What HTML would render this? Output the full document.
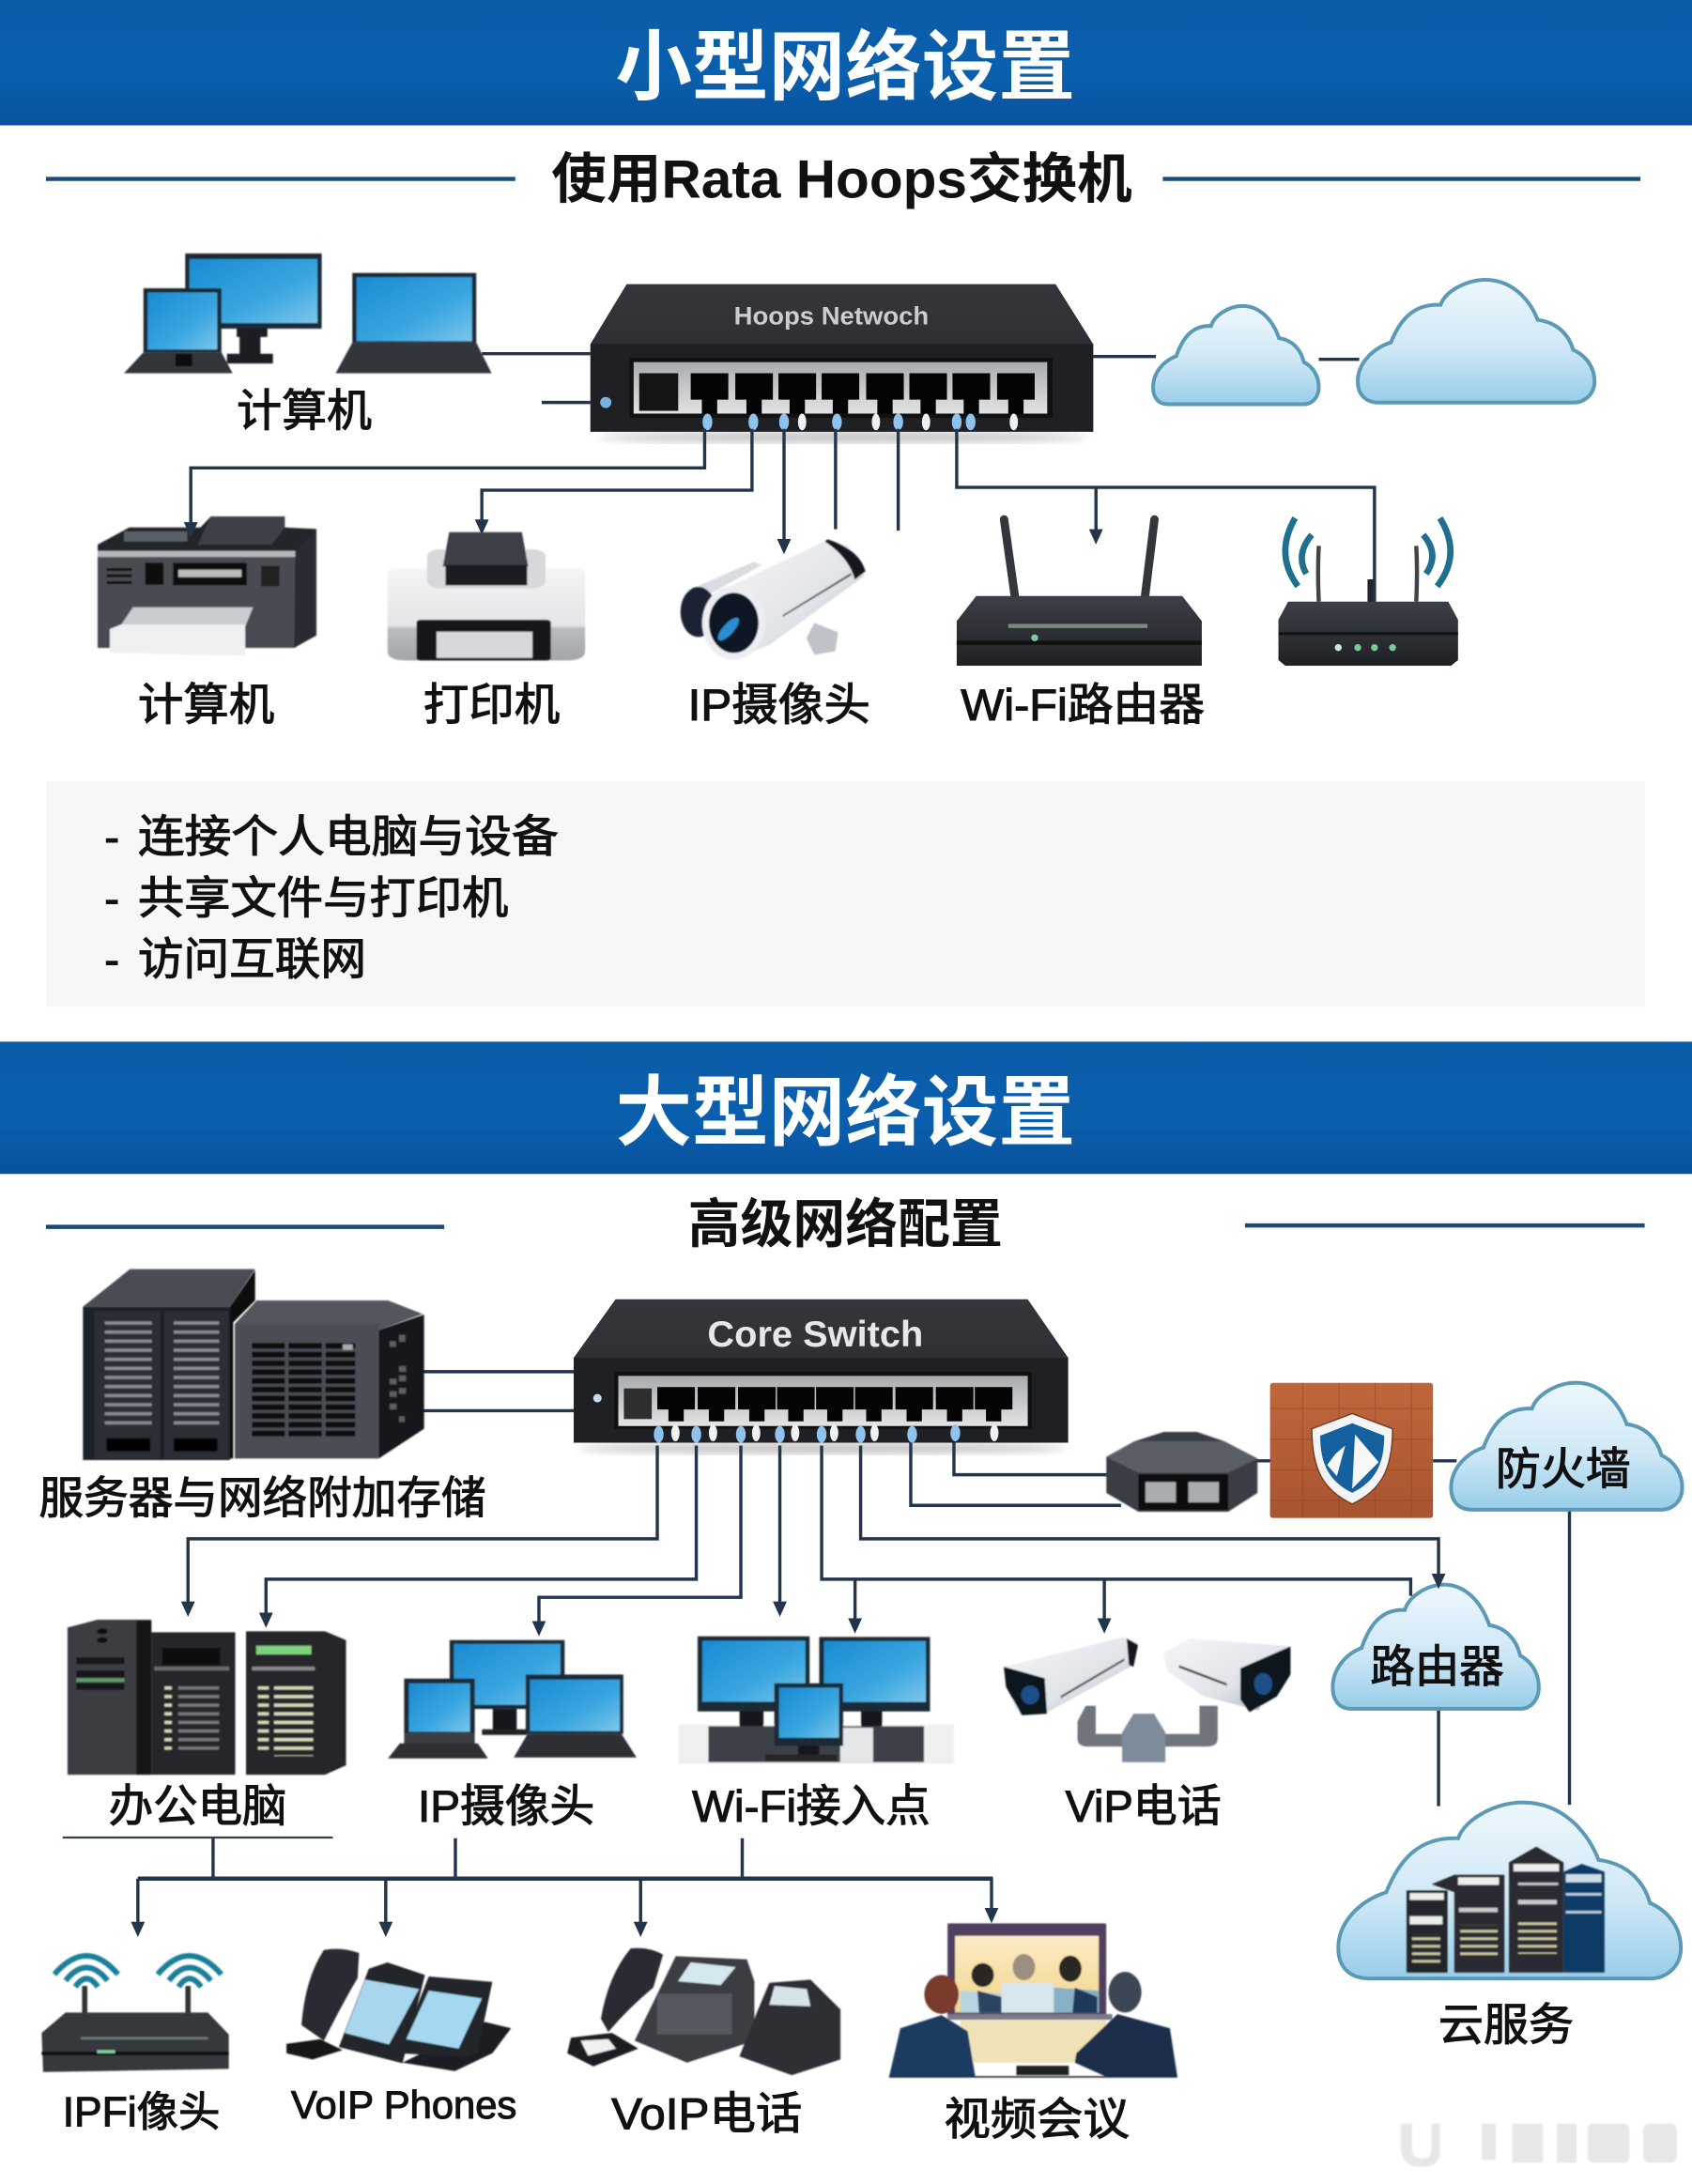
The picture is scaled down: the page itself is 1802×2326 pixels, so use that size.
<!DOCTYPE html>
<html><head><meta charset="utf-8"><style>
html,body{margin:0;padding:0;background:#fff}
svg{display:block}
text{font-family:"Liberation Sans","Noto Sans CJK SC",sans-serif;fill:#111}
.b{font-weight:700}
.w{stroke:#111;stroke-width:.75}
.l{fill:none;stroke:#22354a;stroke-width:2.3}
</style></head><body>
<svg width="1802" height="2326" viewBox="0 0 1215 1568.3" xmlns="http://www.w3.org/2000/svg">
<defs>
<linearGradient id="hd" x1="0" y1="0" x2="0" y2="1"><stop offset="0" stop-color="#0c5ba8"/><stop offset=".6" stop-color="#0a60ae"/><stop offset="1" stop-color="#08509c"/></linearGradient>
<linearGradient id="scr" x1="0" y1="0" x2="1" y2="1"><stop offset="0" stop-color="#1a8ad2"/><stop offset=".6" stop-color="#3aa6e0"/><stop offset="1" stop-color="#7cc6ea"/></linearGradient>
<linearGradient id="cl" x1="0" y1="0" x2="0" y2="1"><stop offset="0" stop-color="#eef7fc"/><stop offset=".55" stop-color="#cfe8f6"/><stop offset="1" stop-color="#98cdea"/></linearGradient>
<linearGradient id="dk" x1="0" y1="0" x2="0" y2="1"><stop offset="0" stop-color="#3c3f46"/><stop offset="1" stop-color="#1f2125"/></linearGradient>
<linearGradient id="lg" x1="0" y1="0" x2="0" y2="1"><stop offset="0" stop-color="#f4f5f7"/><stop offset=".62" stop-color="#e2e4e7"/><stop offset=".66" stop-color="#b8bbc0"/><stop offset="1" stop-color="#a2a5aa"/></linearGradient>
<linearGradient id="wb" x1="0" y1="0" x2="1" y2="1"><stop offset="0" stop-color="#f6f7f9"/><stop offset=".6" stop-color="#dfe2e7"/><stop offset="1" stop-color="#a7acb3"/></linearGradient>
<linearGradient id="pn" x1="0" y1="0" x2="0" y2="1"><stop offset="0" stop-color="#a9acaf"/><stop offset="1" stop-color="#e2e3e5"/></linearGradient>
<linearGradient id="brick" x1="0" y1="0" x2="0" y2="1"><stop offset="0" stop-color="#c0673c"/><stop offset="1" stop-color="#a85430"/></linearGradient>
<linearGradient id="sw" x1="0" y1="0" x2="0" y2="1"><stop offset="0" stop-color="#34363c"/><stop offset="1" stop-color="#25272c"/></linearGradient>
<linearGradient id="vid" x1="0" y1="0" x2="0" y2="1"><stop offset="0" stop-color="#fbeac6"/><stop offset="1" stop-color="#f2d68c"/></linearGradient>
<filter id="bl"><feGaussianBlur stdDeviation=".45"/></filter>
<filter id="bl2"><feGaussianBlur stdDeviation="3"/></filter>
<marker id="a" markerWidth="12" markerHeight="12" refX="5" refY="5" orient="auto" markerUnits="userSpaceOnUse"><path d="M0,0 L10,0 L5,11 Z" transform="rotate(-90 5 5)" fill="#22354a"/></marker>
<path id="cloud" d="M9,99 C3,99 0,92 0,82 C0,68 6,56 14,51 C18,32 24,20 35,21 C37,10 46,1 54,1 C64,1 72,14 76,33 C84,35 89,44 91,57 C97,62 100,72 100,82 C100,92 96,99 91,99 Z" vector-effect="non-scaling-stroke" fill="url(#cl)" stroke="#5b9ab6" stroke-width="4"/>
<g id="port"><path d="M0,0 H27 V19 H19 V29 H8 V19 H0 Z" fill="#050505"/></g>
<g id="ledb"><ellipse rx="3.500" ry="6" fill="#8fc3ee"/></g>
<g id="ledw"><ellipse rx="3" ry="6" fill="#eef2f5"/></g>
<pattern id="gr" x="0" y="270" width="400" height="28" patternUnits="userSpaceOnUse"><rect width="400" height="28" fill="#4a4d54"/><rect y="1" width="400" height="18" fill="#0c0d0f"/></pattern>
<pattern id="bk" x="0" y="0" width="26" height="22" patternUnits="userSpaceOnUse"><path d="M0,21.500 H26 M25.500,0 V22" stroke="#8f4726" stroke-width="1" opacity=".5"/></pattern>
<pattern id="r1" x="0" y="258" width="400" height="27.500" patternUnits="userSpaceOnUse"><rect width="400" height="27.500" fill="#26282c"/><rect x="0" y="0" width="400" height="10" fill="#76797d"/></pattern>
<pattern id="r2" x="0" y="258" width="400" height="27.500" patternUnits="userSpaceOnUse"><rect width="400" height="27.500" fill="#26282b"/><rect x="0" y="0" width="400" height="10" fill="#d6dcb8"/></pattern>
<pattern id="r3" x="0" y="0" width="400" height="24" patternUnits="userSpaceOnUse"><rect width="400" height="24" fill="#2a2c30"/><rect x="0" y="4" width="400" height="8" fill="#cdc9a0"/></pattern>
<pattern id="bars" x="0" y="200" width="400" height="29" patternUnits="userSpaceOnUse"><rect width="400" height="29" fill="#2c2f35"/><rect x="0" y="2" width="400" height="10" fill="#8b8f94"/></pattern>
</defs>

<rect width="1215" height="1568.3" fill="#fff"/>
<!-- header 1 -->
<rect x="0" y="0" width="1215" height="90" fill="url(#hd)"/>
<text x="442" y="67" class="b" font-size="55" textLength="330" lengthAdjust="spacingAndGlyphs" style="fill:#fff">小型网络设置</text>
<path d="M33 128.500H370M835 128.500H1178" stroke="#1c4a75" stroke-width="3"/>
<text x="396" y="142" class="b" font-size="39" textLength="417" lengthAdjust="spacingAndGlyphs">使用Rata Hoops交换机</text>

<!-- computers top -->
<g filter="url(#bl)">
<rect x="133" y="182" width="98" height="54" fill="#1e2a36"/><rect x="136" y="186" width="92" height="46" fill="url(#scr)"/>
<path d="M170 236h22v6h-5v12h9v7h-33v-7h9v-12h-2z" fill="#1d1f23"/>
<rect x="103" y="207" width="56" height="46" fill="#1e2a36"/><rect x="106" y="210" width="50" height="41" fill="url(#scr)"/>
<path d="M103 253H159L167 268H89Z" fill="#33363b"/><rect x="126" y="254" width="12" height="9" fill="#111"/>
<rect x="253" y="196" width="89" height="50" fill="#1e2a36"/><rect x="256" y="199" width="83" height="46" fill="url(#scr)"/>
<path d="M253 246H342L353 268H241Z" fill="#33363b"/>
</g>
<text x="170" y="306" font-size="32" textLength="97" lengthAdjust="spacingAndGlyphs" class="w">计算机</text>

<!-- top switch -->
<ellipse cx="605" cy="314" rx="175" ry="4" fill="#c4c4c4" filter="url(#bl2)"/>
<path d="M450 204H758L785 247V310H424V247Z" fill="url(#sw)"/>
<path d="M424 247H785V310H424Z" fill="#1f2024"/>
<rect x="452" y="257" width="304" height="43" fill="#111"/>
<rect x="455" y="260" width="297" height="37" fill="url(#pn)"/>
<rect x="459" y="268" width="28" height="27" fill="#141414"/>
<use href="#port" x="496" y="268"/><use href="#port" x="528" y="268"/><use href="#port" x="559" y="268"/><use href="#port" x="590" y="268"/><use href="#port" x="622" y="268"/><use href="#port" x="653" y="268"/><use href="#port" x="684" y="268"/><use href="#port" x="716" y="268"/>
<use href="#ledb" x="508" y="303"/><use href="#ledb" x="541" y="303"/><use href="#ledb" x="563" y="303"/><use href="#ledw" x="576" y="303"/><use href="#ledb" x="601" y="303"/><use href="#ledw" x="629" y="303"/><use href="#ledb" x="645" y="303"/><use href="#ledw" x="665" y="303"/><use href="#ledb" x="687" y="303"/><use href="#ledb" x="697" y="303"/><use href="#ledw" x="728" y="303"/>
<circle cx="435" cy="289" r="4" fill="#79b4e0"/>
<text x="527" y="233" class="b" font-size="18" textLength="140" lengthAdjust="spacingAndGlyphs" style="fill:#c9cdd1">Hoops Netwoch</text>

<!-- top clouds -->
<path class="l" d="M785 256H830M947 258H976"/>
<use href="#cloud" transform="translate(828,219) scale(1.19,.72)"/>
<use href="#cloud" transform="translate(975,200) scale(1.7,.9)"/>

<!-- MFP / printer / camera: zoom-space group -->
<g filter="url(#bl)"><g transform="translate(60.68,357.36) scale(.3784,.2248)">
<path d="M25 150L85 95H220L240 60H380V95L440 100V440L395 480H25Z" fill="#24262c"/>
<rect x="75" y="108" width="120" height="32" fill="#5a6068"/>
<path d="M240 60H380V95L355 150H215Z" fill="#3d4047"/>
<rect x="25" y="170" width="375" height="20" fill="#b3b6bb"/>
<rect x="25" y="190" width="375" height="290" fill="#484b52"/>
<path d="M400 170L440 105V440L398 480Z" fill="#2a2c31"/>
<rect x="42" y="225" width="48" height="9" fill="#111"/><rect x="42" y="245" width="48" height="9" fill="#111"/><rect x="42" y="267" width="48" height="9" fill="#111"/>
<rect x="115" y="208" width="35" height="70" fill="#111"/>
<rect x="168" y="208" width="140" height="72" fill="#0c0c0d"/><rect x="178" y="230" width="120" height="24" fill="#b9bbbd"/>
<rect x="335" y="218" width="35" height="65" fill="#222"/>
<path d="M92 350H320L305 412L70 405Z" fill="#c8cbcf"/>
<path d="M70 405H305V505L48 495V420Z" fill="#eeeff0"/>

<path d="M575 240Q575 225 600 225H925Q950 225 950 240V490Q950 520 915 520H610Q575 520 575 490Z" fill="url(#lg)"/>
<rect x="650" y="165" width="225" height="125" rx="24" fill="#d6d8db"/>
<path d="M692 110H830L842 220H680Z" fill="#3e4147"/>
<rect x="685" y="215" width="155" height="65" fill="#1b1c20"/>
<rect x="630" y="390" width="255" height="130" rx="8" fill="#15161a"/>
<rect x="668" y="428" width="182" height="84" fill="#d5d7da"/>

<path d="M1140 300L1270 205L1285 215L1190 305Z" fill="#d9dce0"/>
<ellipse cx="1165" cy="365" rx="34" ry="80" fill="#1b2230"/>
<path d="M1210 295L1410 135L1450 155L1480 250L1300 470L1230 515Z" fill="url(#wb)"/>
<path d="M1410 133Q1470 165 1482 235L1462 262Q1450 190 1405 140Z" fill="#17181b"/>
<ellipse cx="1232" cy="400" rx="60" ry="118" fill="#eceef1"/>
<ellipse cx="1232" cy="400" rx="47" ry="96" fill="#0d1420"/>
<ellipse cx="1222" cy="420" rx="12" ry="40" transform="rotate(25 1222 420)" fill="#2a8ed0"/>
<path d="M1325 375L1455 240L1455 248L1325 381Z" fill="#565a60"/>
<path d="M1385 400L1430 430L1425 490L1385 502L1370 450Z" fill="#bfc3c7"/>
</g></g>

<!-- router big -->
<path d="M721 373 L729 430" stroke="#33363b" stroke-width="6" stroke-linecap="round"/>
<path d="M829 373 L822 430" stroke="#33363b" stroke-width="6" stroke-linecap="round"/>
<path d="M701 428H849L863 446V478H687V446Z" fill="url(#dk)"/>
<rect x="687" y="460" width="176" height="3" fill="#111"/>
<rect x="724" y="448" width="100" height="3" fill="#7a8a80"/>
<circle cx="743" cy="458" r="2.500" fill="#7fc8a0"/>
<!-- router small -->
<path d="M947 432 Q946 410 947 392" stroke="#444" stroke-width="3" fill="none"/>
<path d="M1017 432 Q1018 410 1017 392" stroke="#444" stroke-width="3" fill="none"/>
<path d="M938 412 Q930 398 942 384M932 421 Q915 398 930 372" stroke="#1f6f8f" stroke-width="4.500" fill="none"/>
<path d="M1024 412 Q1034 398 1022 384M1032 421 Q1050 398 1034 372" stroke="#1f6f8f" stroke-width="4.500" fill="none"/>
<rect x="982" y="416" width="5" height="18" fill="#22252a"/>
<path d="M925 432H1040L1047 445V474L1042 478H923L918 474V445Z" fill="url(#dk)"/>
<rect x="918" y="454" width="129" height="2" fill="#111"/>
<circle cx="961" cy="465" r="2.500" fill="#cfe8d8"/><circle cx="975" cy="465" r="2.500" fill="#7ec79c"/><circle cx="987" cy="465" r="2.500" fill="#7ec79c"/><circle cx="1000" cy="465" r="2.500" fill="#7ec79c"/>

<!-- top connectors -->
<path class="l" d="M346 254H424M389 289H424"/>
<path class="l" d="M506 308V336H137V380" marker-end="url(#a)"/>
<path class="l" d="M540 308V352H346V378" marker-end="url(#a)"/>
<path class="l" d="M563 308V392" marker-end="url(#a)"/>
<path class="l" d="M600 308V380M645 308V381M687 308V350H987V432"/>
<path class="l" d="M787 350V385" marker-end="url(#a)"/>

<text x="99" y="517" font-size="32" textLength="98" lengthAdjust="spacingAndGlyphs" class="w">计算机</text>
<text x="304" y="517" font-size="32" textLength="98" lengthAdjust="spacingAndGlyphs" class="w">打印机</text>
<text x="494" y="517" font-size="32" textLength="131" lengthAdjust="spacingAndGlyphs" class="w">IP摄像头</text>
<text x="690" y="517" font-size="32" textLength="175" lengthAdjust="spacingAndGlyphs" class="w">Wi-Fi路由器</text>

<!-- info -->
<rect x="33" y="561" width="1148" height="162" fill="#f6f7f7"/>
<text x="75" y="612" font-size="32" class="w">-</text><text x="99" y="612" font-size="32" textLength="302" lengthAdjust="spacingAndGlyphs" class="w">连接个人电脑与设备</text>
<text x="75" y="656" font-size="32" class="w">-</text><text x="99" y="656" font-size="32" textLength="266" lengthAdjust="spacingAndGlyphs" class="w">共享文件与打印机</text>
<text x="75" y="700" font-size="32" class="w">-</text><text x="99" y="700" font-size="32" textLength="164" lengthAdjust="spacingAndGlyphs" class="w">访问互联网</text>

<!-- header 2 -->
<rect x="0" y="748" width="1215" height="95" fill="url(#hd)"/>
<text x="442" y="818" class="b" font-size="55" textLength="330" lengthAdjust="spacingAndGlyphs" style="fill:#fff">大型网络设置</text>
<path d="M33 881H319M894 880H1181" stroke="#1c4a75" stroke-width="3"/>
<text x="494" y="892" class="b" font-size="38" textLength="226" lengthAdjust="spacingAndGlyphs">高级网络配置</text>

<!-- servers top -->
<path class="l" d="M300 985H412M300 1013H412"/>
<g filter="url(#bl)"><g transform="translate(40.46,903.5) scale(.22476)">
<path d="M85 155L235 35H635L555 155Z" fill="#4a4d53"/>
<path d="M555 155L635 38V135L565 205V640H555Z" fill="#111"/>
<rect x="85" y="155" width="470" height="490" fill="#1f2126"/>
<rect x="122" y="170" width="210" height="470" fill="#2c2f35"/><rect x="345" y="170" width="205" height="470" fill="#2c2f35"/>
<rect x="155" y="200" width="150" height="340" fill="url(#bars)"/><rect x="375" y="200" width="145" height="340" fill="url(#bars)"/>
<rect x="160" y="575" width="140" height="42" fill="#050506"/><rect x="375" y="575" width="140" height="42" fill="#050506"/>
<path d="M570 210L640 135H1060L1170 178L1030 230Z" fill="#53565c"/>
<path d="M570 210H1030V640H570Z" fill="#4a4d54"/>
<path d="M1030 230L1175 180V545L1030 640Z" fill="#17181b"/>
<rect x="625" y="270" width="105" height="304" fill="url(#gr)"/><rect x="742" y="270" width="106" height="304" fill="url(#gr)"/><rect x="860" y="270" width="95" height="304" fill="url(#gr)"/>
<rect x="915" y="275" width="32" height="18" fill="#aaa"/>
<g fill="#5b5e63"><rect x="1065" y="265" width="20" height="18"/><rect x="1095" y="245" width="20" height="22"/><rect x="1095" y="345" width="22" height="18"/><rect x="1065" y="385" width="22" height="18"/><rect x="1095" y="375" width="22" height="18"/><rect x="1065" y="425" width="22" height="18"/><rect x="1095" y="415" width="22" height="18"/><rect x="1065" y="465" width="22" height="18"/><rect x="1095" y="505" width="18" height="18"/></g>
</g></g>
<text x="28" y="1087" font-size="32" textLength="321" lengthAdjust="spacingAndGlyphs" class="w">服务器与网络附加存储</text>

<!-- core switch -->
<ellipse cx="590" cy="1040" rx="175" ry="4" fill="#c4c4c4" filter="url(#bl2)"/>
<path d="M442 933H738L767 975V1036H412V975Z" fill="url(#sw)"/>
<path d="M412 975H767V1036H412Z" fill="#1f2024"/>
<rect x="441" y="985" width="300" height="41" fill="#111"/>
<rect x="444" y="988" width="294" height="36" fill="url(#pn)"/>
<rect x="448" y="997" width="20" height="22" fill="#2e2e2e"/>
<use href="#port" transform="translate(472,996) scale(1,.85)"/><use href="#port" transform="translate(501,996) scale(1,.85)"/><use href="#port" transform="translate(530,996) scale(1,.85)"/><use href="#port" transform="translate(558,996) scale(1,.85)"/><use href="#port" transform="translate(586,996) scale(1,.85)"/><use href="#port" transform="translate(614,996) scale(1,.85)"/><use href="#port" transform="translate(643,996) scale(1,.85)"/><use href="#port" transform="translate(672,996) scale(1,.85)"/><use href="#port" transform="translate(700,996) scale(1,.85)"/>
<use href="#ledb" x="473" y="1030"/><use href="#ledw" x="485" y="1029"/><use href="#ledb" x="500" y="1030"/><use href="#ledw" x="512" y="1029"/><use href="#ledb" x="532" y="1030"/><use href="#ledw" x="543" y="1029"/><use href="#ledb" x="560" y="1030"/><use href="#ledw" x="571" y="1029"/><use href="#ledb" x="590" y="1030"/><use href="#ledw" x="599" y="1029"/><use href="#ledb" x="618" y="1030"/><use href="#ledw" x="628" y="1029"/><use href="#ledb" x="655" y="1030"/><use href="#ledb" x="686" y="1029"/><use href="#ledw" x="714" y="1029"/>
<circle cx="429" cy="1004" r="3" fill="#c9dcec"/>
<text x="508" y="967" class="b" font-size="26" textLength="155" lengthAdjust="spacingAndGlyphs" style="fill:#e6e7e9">Core Switch</text>

<!-- connectors lower A -->
<path class="l" d="M685 1036V1059H800M654 1036V1081H805M900 1049H915M1029 1049H1046M1127 1085V1296M1033 1228V1297"/>

<!-- octagon -->
<g filter="url(#bl)"><g transform="translate(775.4,970.9) scale(.2804,.2248)">
<path d="M68 335L140 285L215 255H300L370 285L455 340V450L380 510H150L68 450Z" fill="#3a3e44"/>
<path d="M68 335L140 285H370L455 340L380 385H150Z" fill="#5a5f66"/>
<rect x="150" y="390" width="230" height="115" fill="#111"/>
<rect x="168" y="415" width="78" height="65" fill="#aaadb0"/><rect x="278" y="415" width="78" height="65" fill="#aaadb0"/>
</g></g>

<!-- firewall -->
<rect x="912" y="993" width="117" height="97" rx="2" fill="url(#brick)"/>
<rect x="912" y="993" width="117" height="97" fill="url(#bk)"/>
<path d="M971 1015L1000 1026C1000 1055 992 1070 971 1080C950 1070 942 1055 942 1026Z" fill="#f2f4f6" stroke="#7a3f20" stroke-width="1"/>
<path d="M971 1022L994 1031C994 1052 987 1064 971 1072C955 1064 948 1052 948 1031Z" fill="#15619f"/>
<path d="M973 1030L990 1050L971 1069Z" fill="#f7f7f5"/><path d="M959 1044L966 1038L960 1060L953 1052Z" fill="#f7f7f5"/>

<!-- clouds lower -->
<use href="#cloud" transform="translate(1042,992) scale(1.66,.93)"/>
<text x="1074" y="1066" font-size="32" textLength="97" lengthAdjust="spacingAndGlyphs" class="w">防火墙</text>
<use href="#cloud" transform="translate(957,1137) scale(1.48,.91)"/>
<text x="984" y="1208" font-size="32" textLength="96" lengthAdjust="spacingAndGlyphs" class="w">路由器</text>
<use href="#cloud" transform="translate(961,1293) scale(2.46,1.29)"/>
<text x="1033" y="1465" font-size="32" textLength="97" lengthAdjust="spacingAndGlyphs" class="w">云服务</text>

<!-- cams and cloud racks -->
<g filter="url(#bl)"><g transform="translate(701.2,1153) scale(.3268,.2248)">
<path d="M240 320L222 370V425Q222 450 245 450H505Q530 450 530 425V320H490V410H262V320Z" fill="#6f747b"/>
<path d="M345 345H390L415 405V500H320V405Z" fill="#7e8c9a"/>
<path d="M60 195L325 100L355 120L345 190L150 345L85 330Z" fill="url(#wb)"/>
<path d="M60 195L150 232L155 345L100 350L65 260Z" fill="#11151f"/>
<ellipse cx="118" cy="285" rx="20" ry="30" fill="#1f4f86"/>
<path d="M330 105L355 125L345 195L335 190Z" fill="#17181b"/>
<path d="M185 288L325 168L325 176L185 296Z" fill="#555"/>
<path d="M410 150L470 105L690 130L620 335L500 290L420 210Z" fill="url(#wb)"/>
<path d="M580 200L690 130V220L660 290L600 340L580 300Z" fill="#11151f"/>
<ellipse cx="630" cy="250" rx="20" ry="35" fill="#1f4f86"/>
<path d="M445 190L550 248L550 256L445 198Z" fill="#444"/>

<rect x="945" y="910" width="90" height="262" fill="#24262a"/>
<rect x="952" y="918" width="75" height="22" fill="#ececea"/><rect x="952" y="992" width="72" height="26" fill="#ececea"/>
<rect x="957" y="1045" width="62" height="96" fill="url(#r3)"/>
<path d="M1000 890L1050 860H1160V1172H1050V915Z" fill="#2a2c30"/>
<rect x="1058" y="868" width="90" height="24" fill="#ececea"/><rect x="1060" y="965" width="85" height="14" fill="#c8c9c8"/>
<rect x="1063" y="1020" width="82" height="110" fill="url(#r3)"/>
<path d="M1170 820L1230 770L1290 820V1172H1170Z" fill="#2a2c30"/>
<rect x="1180" y="825" width="100" height="24" fill="#ececea"/><rect x="1190" y="885" width="88" height="8" fill="#ccc"/><rect x="1190" y="940" width="85" height="14" fill="#ccc"/>
<rect x="1190" y="1000" width="85" height="112" fill="url(#r3)"/>
<path d="M1290 850L1330 825L1380 850V1172H1290Z" fill="#0f3a66"/>
<rect x="1295" y="858" width="78" height="26" fill="#cfdde8"/><rect x="1295" y="918" width="78" height="8" fill="#bfd3e2"/><rect x="1295" y="975" width="78" height="8" fill="#bfd3e2"/>
</g></g>

<!-- office servers, laptops, workstation -->
<g filter="url(#bl)"><g transform="translate(26.97,1153) scale(.4301,.2248)">
<path d="M50 70L100 45H190V540H50Z" fill="#3a3d43"/><rect x="165" y="48" width="25" height="492" fill="#141518"/>
<circle cx="108" cy="82" r="9" fill="#111"/><circle cx="108" cy="110" r="9" fill="#111"/>
<rect x="65" y="165" width="80" height="22" fill="#14161a"/><rect x="65" y="207" width="80" height="22" fill="#14161a"/><rect x="65" y="232" width="80" height="12" fill="#5e9c66"/><rect x="65" y="247" width="80" height="22" fill="#14161a"/>
<rect x="190" y="85" width="140" height="455" fill="#26282c"/>
<rect x="208" y="135" width="97" height="55" fill="#0b0b0d"/><rect x="195" y="195" width="125" height="12" fill="#6a6d72"/>
<rect x="235" y="258" width="68" height="202" fill="url(#r1)"/><rect x="212" y="258" width="12" height="202" fill="url(#r2)"/>
<path d="M348 82H480L515 110V510L480 540H348Z" fill="#26282b"/>
<rect x="365" y="128" width="92" height="28" fill="#7fd27f"/><rect x="358" y="195" width="105" height="12" fill="#888"/>
<rect x="395" y="258" width="65" height="222" fill="url(#r2)"/><rect x="368" y="258" width="18" height="202" fill="url(#r2)"/>

<rect x="688" y="110" width="192" height="220" fill="#1e2a36"/><rect x="695" y="122" width="178" height="195" fill="url(#scr)"/>
<rect x="760" y="330" width="40" height="70" fill="#17181b"/><rect x="742" y="395" width="75" height="18" fill="#222"/>
<rect x="612" y="233" width="118" height="175" fill="#1e2a36"/><rect x="620" y="248" width="102" height="155" fill="url(#scr)"/>
<rect x="612" y="408" width="118" height="35" fill="#3a3c42"/><path d="M605 440H735L752 488H585Z" fill="#2d2f34"/>
<rect x="815" y="220" width="163" height="190" fill="#1e2a36"/><rect x="822" y="236" width="150" height="165" fill="url(#scr)"/>
<path d="M818 410H975L1000 485H795Z" fill="#2d2f34"/>

<rect x="1070" y="380" width="460" height="125" fill="#efeff0"/>
<rect x="1172" y="335" width="40" height="55" fill="#17181b"/><rect x="1375" y="335" width="35" height="55" fill="#17181b"/>
<rect x="1120" y="385" width="360" height="115" fill="#3e4146"/>
<rect x="1340" y="390" width="55" height="110" fill="#e5e6e7"/>
<rect x="1102" y="98" width="187" height="240" fill="#1e2a36"/><rect x="1110" y="112" width="172" height="195" fill="url(#scr)"/>
<rect x="1305" y="100" width="185" height="238" fill="#1e2a36"/><rect x="1313" y="113" width="170" height="195" fill="url(#scr)"/>
<rect x="1270" y="445" width="35" height="35" fill="#17181b"/><rect x="1215" y="475" width="120" height="22" fill="#26282c"/>
<rect x="1230" y="248" width="115" height="200" fill="#1e2a36"/><rect x="1238" y="262" width="100" height="160" fill="url(#scr)"/>
</g></g>

<!-- lower connectors B -->
<path class="l" d="M472 1038V1105H135V1155" marker-end="url(#a)"/>
<path class="l" d="M500 1038V1134H191V1163" marker-end="url(#a)"/>
<path class="l" d="M532 1038V1147H387V1169" marker-end="url(#a)"/>
<path class="l" d="M560 1038V1155" marker-end="url(#a)"/>
<path class="l" d="M590 1038V1134H1013V1146"/>
<path class="l" d="M614 1134V1167" marker-end="url(#a)"/>
<path class="l" d="M793 1134V1167" marker-end="url(#a)"/>
<path class="l" d="M618 1038V1105H1033V1135" marker-end="url(#a)"/>

<text x="78" y="1308" font-size="32" textLength="128" lengthAdjust="spacingAndGlyphs" class="w">办公电脑</text>
<text x="300" y="1308" font-size="32" textLength="127" lengthAdjust="spacingAndGlyphs" class="w">IP摄像头</text>
<text x="497" y="1308" font-size="32" textLength="171" lengthAdjust="spacingAndGlyphs" class="w">Wi-Fi接入点</text>
<text x="765" y="1308" font-size="32" textLength="112" lengthAdjust="spacingAndGlyphs" class="w">ViP电话</text>

<path d="M45 1319.500H239" stroke="#33414e" stroke-width="1.500"/>
<path class="l" d="M153 1320V1349M327 1320V1349M533 1320V1349"/>
<path class="l" style="stroke-width:3" d="M99 1349H713"/>
<path class="l" d="M99 1349V1385" marker-end="url(#a)"/>
<path class="l" d="M277 1349V1385" marker-end="url(#a)"/>
<path class="l" d="M460 1349V1385" marker-end="url(#a)"/>
<path class="l" d="M712 1349V1375" marker-end="url(#a)"/>

<!-- bottom row -->
<g filter="url(#bl)"><g transform="translate(20.23,1375.5) scale(.5376,.2248)">
<rect x="72" y="225" width="7" height="120" fill="#333"/><rect x="210" y="225" width="7" height="120" fill="#333"/>
<g fill="none" stroke="#1a7f9a" stroke-width="6" vector-effect="non-scaling-stroke"><path vector-effect="non-scaling-stroke" d="M35 188Q78 70 120 188"/><path vector-effect="non-scaling-stroke" d="M50 208Q78 125 106 208"/><path vector-effect="non-scaling-stroke" d="M63 228Q78 175 93 228"/><path vector-effect="non-scaling-stroke" d="M173 188Q215 70 258 188"/><path vector-effect="non-scaling-stroke" d="M188 208Q215 125 244 208"/><path vector-effect="non-scaling-stroke" d="M201 228Q215 175 231 228"/></g>
<path d="M50 310H240L268 380V490L20 500L18 375Z" fill="#36393e"/>
<rect x="18" y="435" width="250" height="11" fill="#0b0b0c"/>
<rect x="70" y="388" width="170" height="8" fill="#6a7a72"/><rect x="92" y="430" width="24" height="10" fill="#86d0a4"/>

<path d="M395 110Q420 100 442 120L440 200Q420 280 395 400L365 350Q370 200 395 110Z" fill="#2a2c31"/>
<path d="M345 410L390 395L420 430L380 460L345 440Z" fill="#141518"/>
<path d="M610 340L645 360L620 440L570 497L500 470Z" fill="#1b1c20"/>
<path d="M455 170L480 150L530 190L500 472L415 420Z" fill="#23252a"/>
<path d="M450 205L522 235L482 412L423 375Z" fill="#a8d6ef"/>
<path d="M535 195L620 212L600 440L585 452L495 440Z" fill="#23252a"/>
<path d="M535 240L606 265L575 425L505 395Z" fill="#a4d8f0"/>

<path d="M805 105Q830 100 848 125L835 230Q800 300 775 372L765 330Q775 190 805 105Z" fill="#2a2c31"/>
<path d="M725 390L780 375L815 425L755 482L720 440Z" fill="#1d1e22"/><path d="M738 400L775 395L785 425L748 448Z" fill="#f0f0f0"/>
<path d="M865 130L960 140L970 210V400L880 470L810 400Z" fill="#3b3d43"/>
<path d="M885 150L945 165L925 222L868 210Z" fill="#d4e8ee"/>
<rect x="840" y="250" width="100" height="130" fill="#55585e"/>
<path d="M990 215L1045 205L1085 300V460L1020 510L950 450L975 300Z" fill="#2d2f34"/>
<path d="M997 225L1040 235L1045 290L990 285Z" fill="#d6e4ea"/>

<rect x="1228" y="25" width="212" height="300" rx="3" fill="#50405e"/>
<rect x="1238" y="65" width="192" height="245" fill="url(#vid)"/>
<path d="M1245 240L1300 250V310H1245Z" fill="#b8d4e4"/><path d="M1300 215H1370V310H1300Z" fill="#d8e6ee"/><path d="M1370 230L1430 240V310H1370Z" fill="#88b0c8"/>
<path d="M1398 230L1428 260V310H1395Z" fill="#1e3a5c"/><path d="M1268 240L1300 260V310H1270Z" fill="#2a4560"/>
<ellipse cx="1275" cy="190" rx="15" ry="38" fill="#2b2622"/><ellipse cx="1330" cy="165" rx="15" ry="42" fill="#9c8f80"/><ellipse cx="1392" cy="170" rx="15" ry="42" fill="#2b2622"/>
<rect x="1228" y="315" width="220" height="18" fill="#7a7a88"/>
<rect x="1245" y="335" width="195" height="135" fill="#efe2b6"/>
<rect x="1320" y="480" width="70" height="30" fill="#222"/>
<ellipse cx="1220" cy="252" rx="23" ry="62" fill="#7a3a2a"/><ellipse cx="1465" cy="245" rx="22" ry="65" fill="#3c4652"/>
<path d="M1150 515L1165 360L1220 318L1255 370L1265 515Z" fill="#1f3a60"/>
<path d="M1535 515L1525 360L1455 315L1400 440L1398 470L1440 515Z" fill="#1a2e4c"/>
<rect x="1150" y="513" width="385" height="5" fill="#23303f"/>
</g></g>

<text x="45" y="1527" font-size="30" textLength="113" lengthAdjust="spacingAndGlyphs" class="w">IPFi像头</text>
<text x="209" y="1521" font-size="28" textLength="162" lengthAdjust="spacingAndGlyphs" class="w">VoIP Phones</text>
<text x="439" y="1529" font-size="32" textLength="137" lengthAdjust="spacingAndGlyphs" class="w">VoIP电话</text>
<text x="678" y="1533" font-size="32" textLength="133" lengthAdjust="spacingAndGlyphs" class="w">视频会议</text>

<!-- watermark -->
<g fill="#e6e7e9" filter="url(#bl)">
<path d="M1006 1525h8v18q0 7 7 7t7 -7v-18h6v20q0 11 -13 11t-15 -11z"/>
<rect x="1064" y="1525" width="10" height="26"/><rect x="1086" y="1525" width="22" height="28"/><rect x="1118" y="1525" width="14" height="28"/>
<rect x="1140" y="1525" width="30" height="28" rx="4"/><rect x="1180" y="1525" width="24" height="28" rx="4"/>
</g>
</svg>
</body></html>
